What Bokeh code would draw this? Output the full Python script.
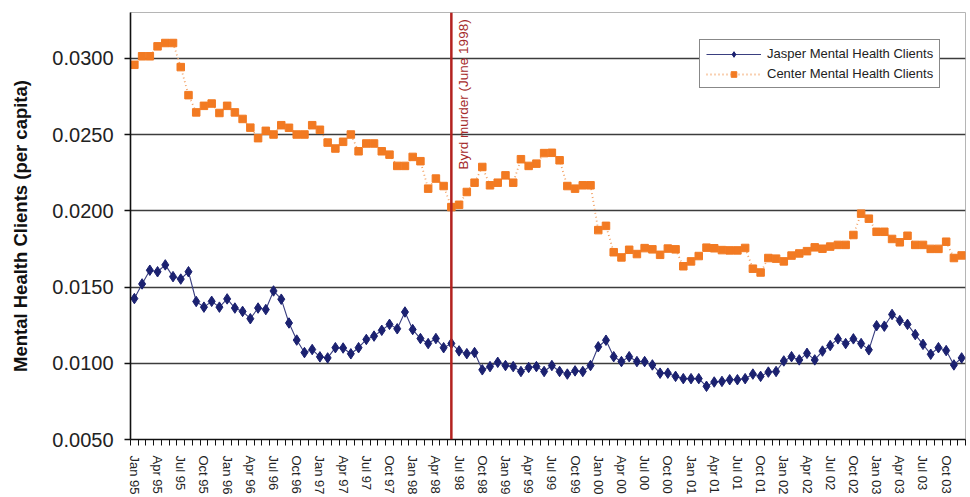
import math
from bokeh.plotting import figure
from bokeh.models import (Range1d, FixedTicker, PrintfTickFormatter, Span, Label,
                          Legend, LegendItem)
from bokeh.embed import file_html
from bokeh.resources import INLINE

# Monthly per-capita client rates, Jan 1995 through Dec 2003
jasper = [
    0.01424, 0.01520, 0.01610, 0.01600, 0.01645, 0.01568, 0.01552, 0.01600, 0.01405, 0.01368, 0.01406, 0.01368,
    0.01422, 0.01362, 0.01340, 0.01292, 0.01362, 0.01352, 0.01474, 0.01420, 0.01264, 0.01152, 0.01070, 0.01090,
    0.01042, 0.01035, 0.01102, 0.01100, 0.01062, 0.01102, 0.01156, 0.01178, 0.01216, 0.01255, 0.01226, 0.01336,
    0.01221, 0.01162, 0.01129, 0.01162, 0.01102, 0.01130, 0.01081, 0.01063, 0.01070, 0.00957, 0.00978, 0.01006,
    0.00985, 0.00978, 0.00946, 0.00972, 0.00978, 0.00946, 0.00985, 0.00946, 0.00929, 0.00950, 0.00946, 0.00985,
    0.01108, 0.01151, 0.01043, 0.01011, 0.01043, 0.01011, 0.01011, 0.00989, 0.00935, 0.00935, 0.00914, 0.00899,
    0.00899, 0.00899, 0.00849, 0.00877, 0.00881, 0.00892, 0.00892, 0.00899, 0.00929, 0.00914, 0.00942, 0.00946,
    0.01015, 0.01043, 0.01022, 0.01065, 0.01022, 0.01080, 0.01116, 0.01160, 0.01129, 0.01160, 0.01129, 0.01088,
    0.01246, 0.01243, 0.01320, 0.01280, 0.01255, 0.01188, 0.01124, 0.01059, 0.01102, 0.01083, 0.00989, 0.01035,
]
center = [
    0.02957, 0.03013, 0.03013, 0.03078, 0.03100, 0.03100, 0.02942, 0.02758, 0.02645, 0.02688, 0.02703, 0.02641,
    0.02688, 0.02645, 0.02602, 0.02545, 0.02476, 0.02524, 0.02500, 0.02561, 0.02544, 0.02500, 0.02500, 0.02561,
    0.02531, 0.02447, 0.02408, 0.02452, 0.02500, 0.02390, 0.02441, 0.02441, 0.02390, 0.02368, 0.02294, 0.02294,
    0.02353, 0.02325, 0.02145, 0.02211, 0.02162, 0.02024, 0.02039, 0.02123, 0.02184, 0.02287, 0.02167, 0.02184,
    0.02232, 0.02184, 0.02338, 0.02294, 0.02309, 0.02378, 0.02380, 0.02331, 0.02162, 0.02145, 0.02167, 0.02167,
    0.01873, 0.01901, 0.01728, 0.01694, 0.01744, 0.01716, 0.01755, 0.01747, 0.01711, 0.01752, 0.01747, 0.01636,
    0.01668, 0.01703, 0.01758, 0.01754, 0.01742, 0.01740, 0.01740, 0.01756, 0.01620, 0.01595, 0.01690, 0.01686,
    0.01668, 0.01706, 0.01720, 0.01735, 0.01760, 0.01751, 0.01765, 0.01776, 0.01776, 0.01841, 0.01981, 0.01948,
    0.01862, 0.01862, 0.01815, 0.01793, 0.01836, 0.01776, 0.01776, 0.01750, 0.01750, 0.01797, 0.01690, 0.01707,
]
quarter_labels = [
    "Jan 95", "Apr 95", "Jul 95", "Oct 95", "Jan 96", "Apr 96", "Jul 96", "Oct 96",
    "Jan 97", "Apr 97", "Jul 97", "Oct 97", "Jan 98", "Apr 98", "Jul 98", "Oct 98",
    "Jan 99", "Apr 99", "Jul 99", "Oct 99", "Jan 00", "Apr 00", "Jul 00", "Oct 00",
    "Jan 01", "Apr 01", "Jul 01", "Oct 01", "Jan 02", "Apr 02", "Jul 02", "Oct 02",
    "Jan 03", "Apr 03", "Jul 03", "Oct 03",
]
event_month = 41          # June 1998
event_text = "Byrd murder (June 1998)"
series_names = ["Jasper Mental Health Clients", "Center Mental Health Clients"]

months = list(range(len(jasper)))
FONT = "Liberation Sans"

p = figure(width=970, height=497, output_backend="svg", toolbar_location=None,
           x_range=Range1d(-0.5, len(months) - 0.5), y_range=Range1d(0.005, 0.033),
           min_border_left=130, min_border_right=5, min_border_top=12, min_border_bottom=56)
p.background_fill_color = "white"
p.border_fill_color = "white"
p.outline_line_color = "#b5b5b5"
p.outline_line_width = 1

# grid
p.xgrid.grid_line_color = None
p.ygrid.grid_line_color = "#3c3c3c"
p.ygrid.grid_line_width = 1.6
p.ygrid.ticker = FixedTicker(ticks=[0.005, 0.010, 0.015, 0.020, 0.025, 0.030])

# y axis
yax = p.yaxis[0]
yax.ticker = FixedTicker(ticks=[0.005, 0.010, 0.015, 0.020, 0.025, 0.030])
yax.formatter = PrintfTickFormatter(format="%.4f")
yax.axis_label = "Mental Health Clients (per capita)"
yax.axis_label_text_font = FONT
yax.axis_label_text_font_style = "bold"
yax.axis_label_text_font_size = "18.5px"
yax.axis_label_text_color = "#111111"
yax.axis_label_standoff = 18
yax.major_label_text_font = FONT
yax.major_label_text_font_size = "20px"
yax.major_label_text_color = "#222222"
yax.major_label_standoff = 11
yax.axis_line_color = "#111111"
yax.axis_line_width = 1.6
yax.major_tick_out = 6
yax.major_tick_in = 0
yax.major_tick_line_color = "#111111"
yax.major_tick_line_width = 1.5
yax.minor_tick_line_color = None

# x axis: quarterly labels, a tick mark at every month boundary
xax = p.xaxis[0]
label_pos = months[::3]
xax.ticker = FixedTicker(ticks=label_pos,
                         minor_ticks=[m - 0.5 for m in months] + [len(months) - 0.5])
xax.major_label_overrides = {pos: lab for pos, lab in zip(label_pos, quarter_labels)}
xax.major_label_orientation = -math.pi / 2
xax.major_label_text_font = FONT
xax.major_label_text_font_size = "13px"
xax.major_label_text_color = "#222222"
xax.major_label_standoff = 10
xax.axis_line_color = "#111111"
xax.axis_line_width = 1.6
xax.major_tick_out = 0
xax.major_tick_in = 0
xax.minor_tick_out = 6
xax.minor_tick_in = 0
xax.minor_tick_line_color = "#111111"
xax.minor_tick_line_width = 1

# series
blue = "#1b2170"
orange = "#f27a22"
c_line = p.line(months, center, line_color="#f3a266", line_width=1.8, line_dash="1 3")
c_pts = p.scatter(months, center, marker="square", size=7.5,
                  fill_color=orange, line_color=orange)
j_line = p.line(months, jasper, line_color="#3a3f80", line_width=1.1)
j_pts = p.scatter(months, jasper, marker="diamond", size=10.5,
                  fill_color=blue, line_color=blue)

# event marker
p.add_layout(Span(location=event_month, dimension="height",
                  line_color="#b3221f", line_width=2.5))
p.add_layout(Label(x=event_month, y=0.03255, text=event_text, angle=math.pi / 2,
                   x_offset=5, text_align="right", text_baseline="top",
                   text_font=FONT, text_font_size="13.5px", text_color="#a52a2a"))

legend = Legend(items=[LegendItem(label=series_names[0], renderers=[j_line, j_pts]),
                       LegendItem(label=series_names[1], renderers=[c_line, c_pts])],
                location=(569, 351))
legend.glyph_width = 55
legend.glyph_height = 14
legend.label_height = 14
legend.label_standoff = 6
legend.spacing = 5
legend.padding = 6
legend.margin = 0
legend.label_text_font = FONT
legend.label_text_font_size = "13px"
legend.label_text_color = "#222222"
legend.border_line_color = "#111111"
legend.border_line_width = 1.5
legend.background_fill_color = "white"
legend.background_fill_alpha = 1
p.add_layout(legend)

open("out.html", "w").write(file_html(p, INLINE))
